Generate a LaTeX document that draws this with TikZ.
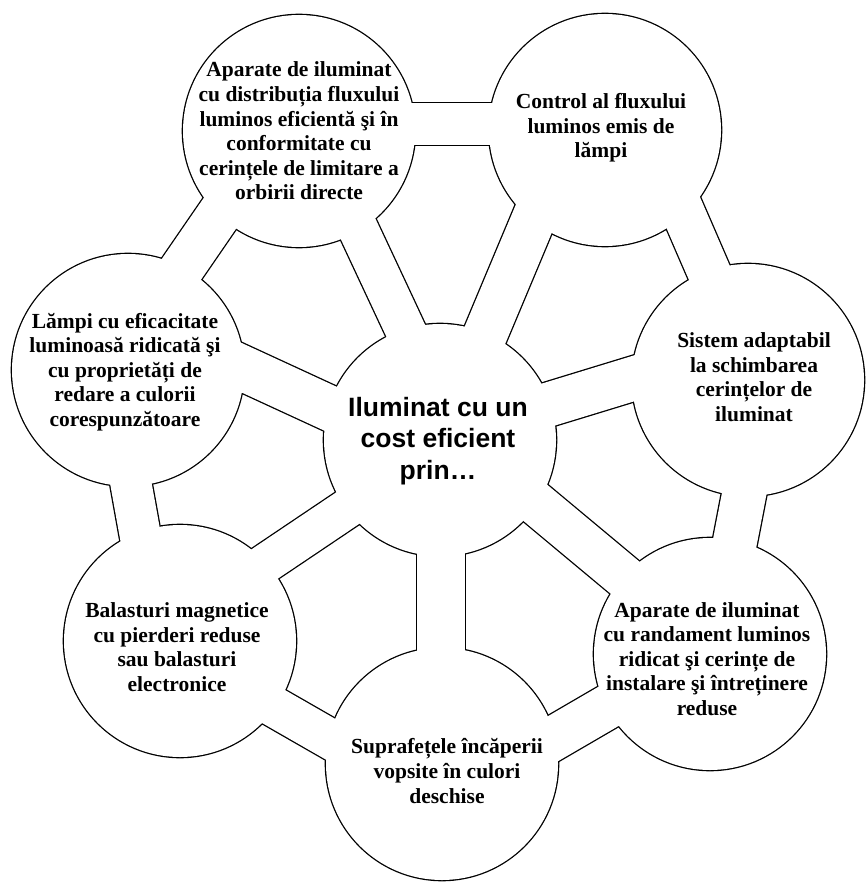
\documentclass[tikz,border=0pt]{standalone}
\usepackage{fontspec}
\setmainfont{Liberation Serif}
\newfontfamily\arialfont{Liberation Sans}
\begin{document}
\begin{tikzpicture}[
  x=1pt, y=-1pt,
  item/.style={font=\bfseries\fontsize{21.5}{24.6}\selectfont, align=center},
  hub/.style={font=\arialfont\bfseries\fontsize{26.5}{31.5}\selectfont, align=center},
  line cap=butt
]
\useasboundingbox (0,0) rectangle (865,882);

\coordinate (hubc) at (440,440);
\coordinate (lumc) at (299,131);
\coordinate (ctrc) at (605,130);
\coordinate (adac) at (748,380);
\coordinate (randc) at (710,654);
\coordinate (supc) at (442,764);
\coordinate (balc) at (180,641);
\coordinate (lampc) at (128,370);

% black pass a little larger, then white pass on top: only the outline stays
\foreach \ink/\grow in {black/1.3, white/0} {
  \foreach \c in {hubc,lumc,ctrc,adac,randc,supc,balc,lampc}
    \fill[\ink] (\c) circle[radius=116pt+\grow pt];
  % ring bands and spokes
  \foreach \xa/\ya/\xb/\yb/\w in {
      299/124/605/124/42, 641/115/754/376/43, 766/381/713/655/44,
      707/649/458/794/44, 426/794/175/650/40, 160/645/111/373/41,
      117/363/284/120/44,
      454/434/310/126/40, 441/440/576/118/44, 439/438/740/346/44,
      448/430/713/651/43, 441/440/441/766/48, 443/444/171/627/39,
      433/456/149/325/45}
    \draw[\ink, line width=\w pt+2*\grow pt] (\xa,\ya) -- (\xb,\yb);
}

\node[hub] (hub) at (438,441) {Iluminat cu un\\cost eficient\\prin…};
\node[item] (lum) at (299,131) {Aparate de iluminat\\cu distribuția fluxului\\luminos eficientă şi în\\conformitate cu\\cerințele de limitare a\\orbirii directe};
\node[item] (ctr) at (601,128) {Control al fluxului\\luminos emis de\\lămpi};
\node[item] (ada) at (754,377) {Sistem adaptabil\\la schimbarea\\cerințelor de\\iluminat};
\node[item] (rand) at (707,659) {Aparate de iluminat\\cu randament luminos\\ridicat şi cerințe de\\instalare şi întreținere\\reduse};
\node[item] (sup) at (447,771) {Suprafețele încăperii\\vopsite în culori\\deschise};
\node[item] (bal) at (177,647) {Balasturi magnetice\\cu pierderi reduse\\sau balasturi\\electronice};
\node[item] (lamp) at (125,372) {Lămpi cu eficacitate\\luminoasă ridicată şi\\cu proprietăți de\\redare a culorii\\corespunzătoare};
\end{tikzpicture}
\end{document}
